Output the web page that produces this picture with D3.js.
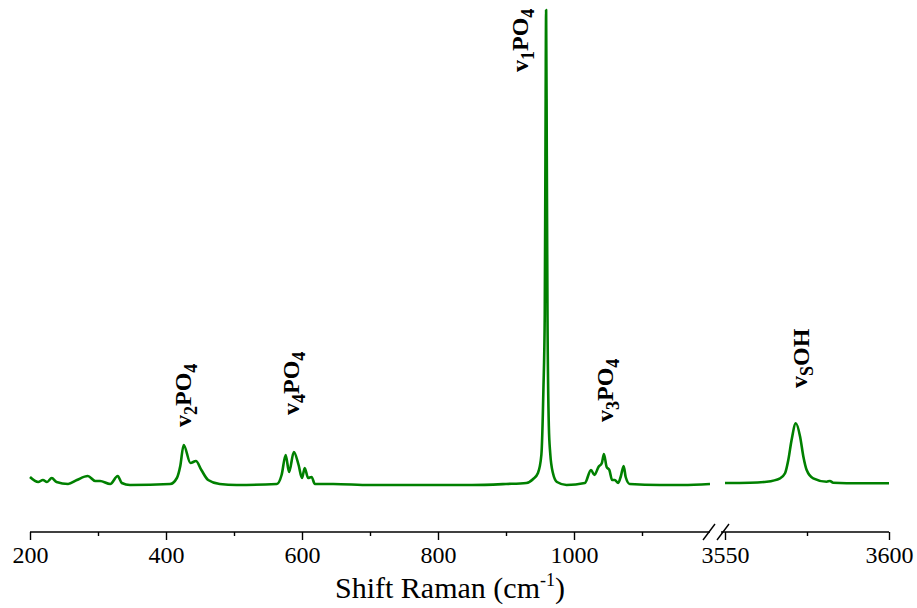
<!DOCTYPE html>
<html>
<head>
<meta charset="utf-8">
<script src="https://cdn.jsdelivr.net/npm/d3@7"></script>
<style>
  html, body { margin: 0; padding: 0; background: #fff; }
  svg { display: block; }
  text { font-family: "Times New Roman", "Liberation Serif", serif; fill: #000; }
</style>
</head>
<body>
<script>
// ---- Data ----
// Low-wavenumber region (cm-1) and intensity (a.u.)
const shiftLow = [200, 212, 219, 225, 232, 239, 256, 269, 285, 296, 303, 318, 329, 335, 347,
  406, 416, 421, 426, 436, 444, 452, 462, 479, 504,
  563, 570, 576, 581, 588, 595, 600, 604, 609, 614, 619, 646,
  700, 750, 800, 850, 900, 930, 940, 947, 952, 955, 957, 958, 959, 960, 961, 963, 965, 969, 975, 989,
  1016, 1025, 1030, 1036, 1041, 1044, 1048, 1052, 1056, 1060, 1065, 1069, 1073, 1076, 1082, 1126, 1160, 1200];
const intensityLow = [8, 3, 5, 3, 7, 3, 1, 5, 9, 4, 4, 1, 9, 2, 0,
  1, 7, 19, 40, 22, 24, 15, 5, 1, 0,
  1, 10, 30, 13, 33, 20, 7, 17, 7, 8, 1, 1,
  0, 0, 0, 0, 1, 2, 6, 12, 30, 95, 171, 329, 475, 329, 171, 59, 32, 12, 3, 0,
  2, 15, 10, 18, 22, 31, 18, 15, 5, 5, 2, 9, 19, 8, 1, 0, 0, 1];
// High-wavenumber region (OH stretching)
const shiftHigh = [3550, 3557.6, 3562.7, 3566.8, 3568.3, 3569.3, 3570.3, 3571.6, 3572.9, 3573.9, 3574.9,
  3576.9, 3581, 3582, 3583, 3591.2, 3600];
const intensityHigh = [2, 2.3, 3.3, 6.7, 11.7, 25, 45, 61.7, 48.3, 28.3, 15, 6.7, 3.3, 4, 2.3, 1.7, 1.7];

// Axis ticks
const majorLow = [200, 400, 600, 800, 1000];
const minorLow = [300, 500, 700, 900, 1100];
const majorHigh = [3550, 3600];
const minorHigh = [3575];

// Band annotations
const bandNames = ["v", "v", "v", "v", "v"];
const bandSubs1 = ["2", "4", "1", "3", "S"];
const bandMid = ["PO", "PO", "PO", "PO", "OH"];
const bandSubs2 = ["4", "4", "4", "4", ""];
const bandShift = [437, 595, 932, 1057, 3575];
const bandHeight = [58, 70, 413, 63, 97];

const axisTitle = "Shift Raman (cm";
const axisTitleSup = "-1";

// ---- Layout ----
const W = 917, H = 608;
const svg = d3.select("body").append("svg").attr("width", W).attr("height", H);

const xLow = d3.scaleLinear().domain([200, 1200]).range([30, 710]);
const xHigh = d3.scaleLinear().domain([3550, 3600]).range([725, 889]);
const y = d3.scaleLinear().domain([0, 475]).range([485, 10]);
const axisY = 532;
const green = "#008000";

const line = (xs) => d3.line().x(d => xs(d[0])).y(d => y(d[1])).curve(d3.curveMonotoneX);

svg.append("path")
  .datum(d3.zip(shiftLow, intensityLow))
  .attr("d", line(xLow))
  .attr("fill", "none").attr("stroke", green).attr("stroke-width", 2.6)
  .attr("stroke-linejoin", "round");

svg.append("path")
  .datum(d3.zip(shiftHigh, intensityHigh))
  .attr("d", line(xHigh))
  .attr("fill", "none").attr("stroke", green).attr("stroke-width", 2.6)
  .attr("stroke-linejoin", "round");

// ---- Axes ----
function drawAxis(scale, majors, minors, x0, x1) {
  const g = svg.append("g").attr("transform", `translate(0,${axisY})`);
  const ax = d3.axisBottom(scale).tickValues(majors).tickSize(8).tickSizeOuter(0).tickPadding(6)
    .tickFormat(d3.format("d"));
  g.call(ax);
  g.select(".domain").remove();
  g.selectAll(".tick line").attr("stroke", "#000").attr("stroke-width", 1.4);
  g.selectAll(".tick text").style("font-size", "24px").style("font-family", '"Times New Roman","Liberation Serif",serif').attr("fill", "#000");
  const gm = svg.append("g").attr("transform", `translate(0,${axisY})`);
  gm.call(d3.axisBottom(scale).tickValues(minors).tickSize(4).tickFormat(""));
  gm.select(".domain").remove();
  gm.selectAll(".tick line").attr("stroke", "#000").attr("stroke-width", 1.4);
  svg.append("line").attr("x1", x0).attr("x2", x1).attr("y1", axisY).attr("y2", axisY)
    .attr("stroke", "#000").attr("stroke-width", 1.4);
}
drawAxis(xLow, majorLow, minorLow, xLow(200), 710);
drawAxis(xHigh, majorHigh, minorHigh, 721, xHigh(3600));

// Break marks
[[703, 540, 715, 524], [717, 540, 729, 524]].forEach(s => {
  svg.append("line").attr("x1", s[0]).attr("y1", s[1]).attr("x2", s[2]).attr("y2", s[3])
    .attr("stroke", "#000").attr("stroke-width", 1.4);
});

// Axis title
const t = svg.append("text").attr("x", 450).attr("y", 598).attr("text-anchor", "middle")
  .style("font-size", "30px");
t.append("tspan").text(axisTitle);
t.append("tspan").attr("dy", -12).style("font-size", "18px").text(axisTitleSup);
t.append("tspan").attr("dy", 12).text(")");

// Band labels
bandNames.forEach((n, i) => {
  const xs = bandShift[i] > 2000 ? xHigh : xLow;
  const lab = svg.append("text")
    .attr("transform", `translate(${xs(bandShift[i])},${y(bandHeight[i])}) rotate(-90)`)
    .attr("text-anchor", "start")
    .style("font-size", "24px").style("font-weight", "bold");
  lab.append("tspan").text(n);
  lab.append("tspan").attr("dy", 6).style("font-size", "18px").text(bandSubs1[i]);
  lab.append("tspan").attr("dy", bandSubs1[i] === "S" ? -4 : -6).text(bandMid[i]);
  if (bandSubs2[i]) lab.append("tspan").attr("dy", 6).style("font-size", "18px").text(bandSubs2[i]);
});
</script>
</body>
</html>
